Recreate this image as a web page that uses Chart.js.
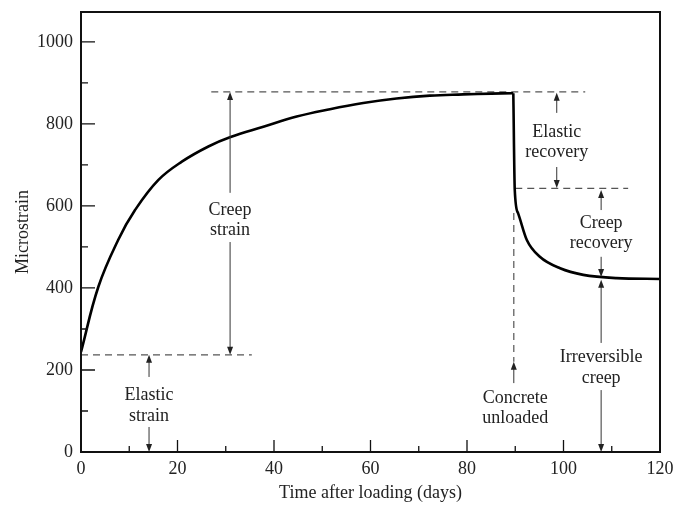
<!DOCTYPE html>
<html>
<head>
<meta charset="utf-8">
<script src="https://cdn.jsdelivr.net/npm/chart.js@4/dist/chart.umd.min.js"></script>
<style>
  body { margin: 0; background: #fff; }
  #wrap { width: 673px; height: 506px; }
</style>
</head>
<body>
<div id="wrap"><canvas id="grafico"></canvas></div>
<script>
// curva sob carga
var diasCarga = [0, 3.6, 7.7, 11.2, 16, 20.9, 26.4, 31, 37.8, 44.7, 51.6, 58.5, 65.4, 72.3, 79.2, 85, 89.6];
var strainCarga = [244, 403, 517, 590, 663, 708, 745, 768, 793, 818, 836, 851, 862, 869, 872, 874, 875];
// curva após descarregar
var diasDescarga = [89.6, 89.9, 90.6, 92.4, 95.1, 99.3, 104.1, 111, 120];
var strainDescarga = [875, 639, 582, 517, 476, 448, 432, 424, 422];

var xTicks = [0, 20, 40, 60, 80, 100, 120];
var xMinor = [10, 30, 50, 70, 90, 110];
var yTicks = [0, 200, 400, 600, 800, 1000];
var yMinor = [100, 300, 500, 700, 900];

// linhas tracejadas: [x1, y1, x2, y2]
var tracejadas = [
    [0, 237, 35.4, 237],
    [27, 878, 104.5, 878],
    [90, 643, 113.4, 643],
    [89.7, 583, 89.7, 220]
];

// setas: [x, de, ponta]
var setas = [
    [14.1, 183, 237], [14.1, 61, 0],
    [30.9, 632, 878], [30.9, 512, 237],
    [98.6, 827, 876], [98.6, 695, 644],
    [107.8, 590, 639], [107.8, 476, 427],
    [107.8, 266, 420], [107.8, 151, 0],
    [89.7, 168, 220]
];

// textos: [x, y, texto]
var textos = [
    [14.1, 139, 'Elastic'], [14.1, 88, 'strain'],
    [30.9, 590, 'Creep'], [30.9, 541, 'strain'],
    [98.6, 780, 'Elastic'], [98.6, 732, 'recovery'],
    [107.8, 559, 'Creep'], [107.8, 510, 'recovery'],
    [90, 132, 'Concrete'], [90, 83, 'unloaded'],
    [107.8, 232, 'Irreversible'], [107.8, 180, 'creep']
];

var fonte = "'Liberation Serif', 'DejaVu Serif', serif";

function pares(xs, ys){
    return xs.map(function(d, i){ return {x: d, y: ys[i]}; });
}

var datasets = [{
    data: pares(diasCarga, strainCarga),
    borderColor: '#000',
    borderWidth: 2.6,
    tension: 0.4,
    pointRadius: 0
}, {
    data: pares(diasDescarga, strainDescarga),
    borderColor: '#000',
    borderWidth: 2.6,
    cubicInterpolationMode: 'monotone',
    pointRadius: 0
}];

tracejadas.forEach(function(t){
    datasets.push({
        data: [{x: t[0], y: t[1]}, {x: t[2], y: t[3]}],
        borderColor: '#555',
        borderWidth: 1.2,
        borderDash: [7, 5],
        pointRadius: 0
    });
});

var desenhos = {
    id: 'desenhos',
    afterDatasetsDraw: function(chart){
        var ctx = chart.ctx;
        var a = chart.chartArea;
        var sx = chart.scales.x, sy = chart.scales.y;
        ctx.save();

        // moldura
        ctx.strokeStyle = '#111';
        ctx.lineWidth = 2;
        ctx.strokeRect(a.left, a.top, a.right - a.left, a.bottom - a.top);

        // marcas internas
        ctx.lineWidth = 1.3;
        ctx.beginPath();
        xTicks.forEach(function(v){ var p = sx.getPixelForValue(v); ctx.moveTo(p, a.bottom); ctx.lineTo(p, a.bottom - 12); });
        xMinor.forEach(function(v){ var p = sx.getPixelForValue(v); ctx.moveTo(p, a.bottom); ctx.lineTo(p, a.bottom - 6); });
        yTicks.forEach(function(v){ var p = sy.getPixelForValue(v); ctx.moveTo(a.left, p); ctx.lineTo(a.left + 14, p); });
        yMinor.forEach(function(v){ var p = sy.getPixelForValue(v); ctx.moveTo(a.left, p); ctx.lineTo(a.left + 7, p); });
        ctx.stroke();

        // setas
        ctx.strokeStyle = '#333';
        ctx.fillStyle = '#222';
        ctx.lineWidth = 1;
        setas.forEach(function(s){
            var x = sx.getPixelForValue(s[0]);
            var y1 = sy.getPixelForValue(s[1]);
            var y2 = sy.getPixelForValue(s[2]);
            var dir = y2 > y1 ? 1 : -1;
            ctx.beginPath();
            ctx.moveTo(x, y1);
            ctx.lineTo(x, y2 - dir * 6);
            ctx.stroke();
            ctx.beginPath();
            ctx.moveTo(x, y2);
            ctx.lineTo(x - 3, y2 - dir * 8);
            ctx.lineTo(x + 3, y2 - dir * 8);
            ctx.closePath();
            ctx.fill();
        });

        // textos
        ctx.fillStyle = '#222';
        ctx.font = '18px ' + fonte;
        ctx.textAlign = 'center';
        ctx.textBaseline = 'middle';
        textos.forEach(function(t){
            ctx.fillText(t[2], sx.getPixelForValue(t[0]), sy.getPixelForValue(t[1]));
        });
        ctx.restore();
    }
};

new Chart(document.getElementById('grafico'), {
    type: 'line',
    data: { datasets: datasets },
    options: {
        responsive: true,
        maintainAspectRatio: false,
        animation: false,
        layout: { padding: { top: 12, right: 13, left: 0, bottom: 0 } },
        plugins: { legend: { display: false }, tooltip: { enabled: false } },
        scales: {
            x: {
                type: 'linear',
                min: 0,
                max: 120,
                afterBuildTicks: function(s){ s.ticks = xTicks.map(function(v){ return {value: v}; }); },
                afterFit: function(s){ s.height = 54; s.paddingLeft = 0; s.paddingRight = 0; },
                grid: { display: false, drawTicks: false },
                border: { display: false },
                ticks: { padding: 6, color: '#222', font: { family: fonte, size: 18 }, callback: function(v){ return String(v); } },
                title: { display: true, text: 'Time after loading (days)', color: '#222', padding: { top: 0, bottom: 2 }, font: { family: fonte, size: 18 } }
            },
            y: {
                type: 'linear',
                min: 0,
                max: 1073,
                afterBuildTicks: function(s){ s.ticks = yTicks.map(function(v){ return {value: v}; }); },
                afterFit: function(s){ s.width = 81; s.paddingTop = 0; s.paddingBottom = 0; },
                grid: { display: false, drawTicks: false },
                border: { display: false },
                ticks: { padding: 8, color: '#222', font: { family: fonte, size: 18 }, callback: function(v){ return String(v); } },
                title: { display: true, text: 'Microstrain', color: '#222', padding: { top: 12, bottom: 0 }, font: { family: fonte, size: 18 } }
            }
        }
    },
    plugins: [desenhos]
});
</script>
</body>
</html>
